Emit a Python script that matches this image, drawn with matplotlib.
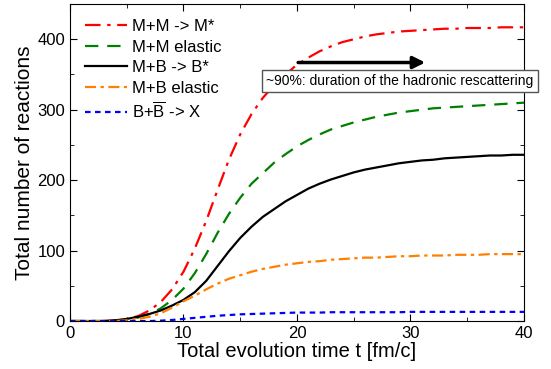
import matplotlib.pyplot as plt
from matplotlib.ticker import MultipleLocator

plt.rcParams['font.family'] = ['Liberation Sans', 'DejaVu Sans']
plt.rcParams['mathtext.fontset'] = 'custom'
plt.rcParams['mathtext.rm'] = 'Liberation Sans'

# time grid [fm/c]
t = list(range(41))

# total number of reactions
mm_res = [0, 0, 0, 0, 1, 3, 7, 15, 27, 45, 70, 103, 142, 186, 229, 265, 294, 317, 335, 350,
          364, 374, 383, 390, 396, 400, 404, 407, 409, 411, 412, 413, 414, 415, 415, 416,
          416, 416, 417, 417, 417]
mm_el = [0, 0, 0, 0, 1, 2, 5, 10, 18, 30, 46, 68, 95, 125, 152, 175, 195, 210, 225, 237,
         248, 257, 265, 272, 277, 282, 286, 290, 293, 296, 298, 300, 302, 303, 304, 305,
         306, 307, 308, 309, 310]
mb_res = [0, 0, 0, 0, 1, 3, 6, 10, 15, 22, 30, 41, 57, 78, 99, 118, 134, 148, 159, 170,
          179, 188, 195, 201, 206, 211, 215, 218, 221, 224, 226, 228, 229, 231, 232, 233,
          234, 235, 235, 236, 236]
mb_el = [0, 0, 0, 0, 0, 1, 3, 6, 11, 19, 28, 36, 45, 53, 60, 65, 70, 74, 77, 80,
         82, 84, 85, 87, 88, 89, 90, 90, 91, 92, 92, 93, 93, 93, 94, 94,
         94, 95, 95, 95, 95]
bb_ann = [0, 0, 0, 0, 0, 0, 0, 0, 0.5, 1.5, 3, 4.5, 6, 7.5, 8.5, 9.5, 10, 10.5, 11, 11.5,
          12, 12, 12, 12.5, 12.5, 12.5, 12.5, 12.5, 12.5, 12.5, 13, 13, 13, 13, 13, 13,
          13, 13, 13, 13, 13]

labels = ['M+M -> M*', 'M+M elastic', 'M+B -> B*', 'M+B elastic', r'B+$\overline{\mathrm{B}}$ -> X']

fig = plt.figure(figsize=(5.51, 3.69), dpi=100)
ax = fig.add_axes([0.127, 0.130, 0.824, 0.859])

ax.plot(t, mm_res, color='#ff0000', lw=1.6, dashes=(7, 3, 1.5, 3), label=labels[0])
ax.plot(t, mm_el, color='#008000', lw=1.6, dashes=(6, 4), label=labels[1])
ax.plot(t, mb_res, color='black', lw=1.6, label=labels[2])
ax.plot(t, mb_el, color='#ff8000', lw=1.6, dashes=(5, 2, 1.5, 2), label=labels[3])
ax.plot(t, bb_ann, color='#0000ff', lw=1.6, dashes=(2.5, 2), label=labels[4])

ax.set_xlim(0, 40)
ax.set_ylim(0, 450)
ax.xaxis.set_major_locator(MultipleLocator(10))
ax.xaxis.set_minor_locator(MultipleLocator(5))
ax.yaxis.set_major_locator(MultipleLocator(100))
ax.yaxis.set_minor_locator(MultipleLocator(50))
ax.tick_params(which='both', direction='in', top=True, right=True, labelsize=12)
ax.tick_params(which='major', length=5)
ax.tick_params(which='minor', length=3)
ax.set_xlabel('Total evolution time t [fm/c]', fontsize=14.5, labelpad=1)
ax.set_ylabel('Total number of reactions', fontsize=15, labelpad=2)

ax.legend(loc='upper left', bbox_to_anchor=(0.0, 1.0), frameon=False, fontsize=12,
          handlelength=2.5, labelspacing=0.33, handletextpad=0.3, borderaxespad=0.5)

ax.annotate('', xy=(31.3, 367), xytext=(20.1, 367),
            arrowprops=dict(arrowstyle='-|>', lw=2.5, color='black', mutation_scale=18,
                            shrinkA=0, shrinkB=0))
ax.text(17.3, 341, '~90%: duration of the hadronic rescattering', fontsize=10, va='center',
        ha='left', clip_on=False,
        bbox=dict(boxstyle='square,pad=0.3', fc='white', ec='#555555', lw=1))

fig.savefig('out.png', dpi=100)
